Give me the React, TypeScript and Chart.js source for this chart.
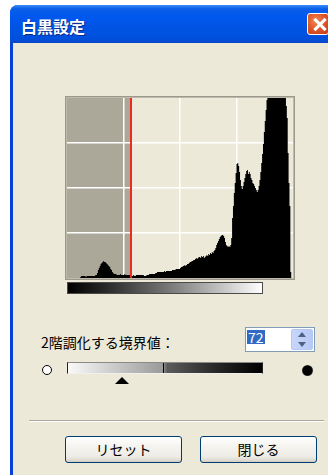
import React, { useEffect, useRef } from "react";
import { Chart, registerables } from "chart.js";

Chart.register(...registerables);

// ---- data ----
const TITLE = "白黒設定";
const THRESHOLD_LABEL = "2階調化する境界値：";
const THRESHOLD = 72;
const BUTTON_LABELS = ["リセット", "閉じる"];
const BIN_MIN = 0;
const BIN_MAX = 256;
const BIN_STEP = 64;
const COUNT_MAX = 180;
const COUNT_STEP = 45;

// histogram counts for bins 0..255 (clipped at COUNT_MAX)
const HISTOGRAM: number[] = [
  0, 0, 0, 0, 0, 0, 0, 0, 0, 0, 0, 0, 0, 0, 0, 0,
  1, 2, 2, 2, 2, 2, 1, 2, 2, 2, 2, 2, 2, 2, 2, 2, 2, 3,
  3, 5, 8, 10, 12, 14, 15, 16, 17, 16, 16, 15, 14, 13, 12, 11, 9, 8, 6, 5, 4, 4, 4, 3,
  3, 3, 3, 4, 3, 3, 3, 3, 4, 3, 3, 3, 3, 3, 3, 3, 2, 2, 3, 2,
  2, 3, 3, 3, 3, 3, 3, 3, 3, 3, 2, 2, 2, 3, 3, 3, 4, 4, 4, 4, 4, 4, 4,
  5, 5, 6, 6, 6, 6, 6, 6, 6, 6, 7, 6, 7, 7, 7, 7, 7, 7, 7, 8,
  8, 8, 8, 9, 9, 9, 9, 9, 10, 11,
  11, 12, 12, 13, 12, 13, 14, 14, 15, 16, 16, 17, 17, 18, 18, 19, 20, 19, 20, 21,
  21, 20, 22, 21, 22, 20, 21, 22, 23, 22, 24, 23, 25, 24, 26, 25, 27, 28, 30, 33,
  35, 37, 39, 41, 42, 43, 43, 42, 40, 36, 33, 32, 31, 32, 31, 33, 40,
  60, 72, 85, 95, 105, 114, 115, 112, 106, 98, 92, 89,
  92, 96, 100, 104, 107, 108, 104, 106, 104, 100, 98, 95, 94, 92, 90, 88, 86, 88, 92, 98,
  106, 115, 124, 134, 146, 157, 168, 178, 190, 205, 220,
  235, 245, 255, 262, 270, 275, 280, 278, 275, 268, 260, 250, 240, 228, 215, 200, 188,
  182, 172, 160, 125, 95, 72, 6, 0,
];

const FONT = '"Noto Sans CJK JP", "Noto Sans", sans-serif';

function Histogram() {
  const ref = useRef<HTMLCanvasElement | null>(null);
  useEffect(() => {
    const canvas = ref.current;
    if (!canvas) return;
    const zonePlugin = {
      id: "zone",
      beforeDraw(chart: any) {
        const { ctx, chartArea, scales } = chart;
        const { left, top, right, bottom } = chartArea;
        ctx.save();
        ctx.fillStyle = "#ece9d8";
        ctx.fillRect(left, top, right - left, bottom - top);
        const xp = scales.x.getPixelForValue(THRESHOLD);
        ctx.fillStyle = "#aca899";
        ctx.fillRect(left, top, xp - left, bottom - top);
        ctx.restore();
      },
      afterDatasetsDraw(chart: any) {
        const { ctx, chartArea, scales } = chart;
        const xp = Math.round(scales.x.getPixelForValue(THRESHOLD));
        ctx.save();
        ctx.fillStyle = "#f0281e";
        ctx.fillRect(xp - 1, chartArea.top, 2, chartArea.bottom - chartArea.top);
        ctx.restore();
      },
    };
    const gridColor = (min: number, max: number) => (c: any) =>
      c.tick && (c.tick.value === min || c.tick.value === max) ? "rgba(0,0,0,0)" : "#ffffff";
    const pts = HISTOGRAM.map((v, i) => ({ x: BIN_MIN + i, y: v }));
    pts.push({ x: BIN_MAX, y: 0 });
    const chart = new Chart(canvas, {
      type: "line",
      data: {
        datasets: [
          {
            data: pts,
            stepped: "after",
            fill: "origin",
            backgroundColor: "#000000",
            borderColor: "rgba(0,0,0,0)",
            borderWidth: 0,
            pointRadius: 0,
            clip: 0,
          } as any,
        ],
      },
      options: {
        responsive: false,
        animation: false,
        events: [],
        layout: { padding: 0 },
        plugins: { legend: { display: false }, tooltip: { enabled: false } },
        scales: {
          x: {
            type: "linear",
            min: BIN_MIN,
            max: BIN_MAX,
            ticks: { display: false, stepSize: BIN_STEP },
            grid: { color: gridColor(BIN_MIN, BIN_MAX), lineWidth: 1.5, drawTicks: false },
            border: { display: false },
          },
          y: {
            type: "linear",
            min: 0,
            max: COUNT_MAX,
            ticks: { display: false, stepSize: COUNT_STEP },
            grid: { color: gridColor(0, COUNT_MAX), lineWidth: 1.5, drawTicks: false },
            border: { display: false },
          },
        },
      } as any,
      plugins: [zonePlugin],
    });
    return () => chart.destroy();
  }, []);
  return (
    <canvas
      ref={ref}
      width={226}
      height={180}
      style={{ position: "absolute", left: 67, top: 98, width: 226, height: 180, display: "block" }}
    />
  );
}

const abs = (s: React.CSSProperties): React.CSSProperties => ({ position: "absolute", ...s });

function XPButton({ label, left }: { label: string; left: number }) {
  return (
    <div
      style={abs({
        left,
        top: 436,
        width: 117,
        height: 27,
        boxSizing: "border-box",
        border: "1px solid #003c74",
        borderRadius: 3,
        background: "linear-gradient(to bottom, #ffffff 0%, #f4f3ee 40%, #ecebe6 80%, #d6d0c5 100%)",
        boxShadow: "inset 0 -1px 0 #d6d0c5",
        font: `14px ${FONT}`,
        color: "#000",
        textAlign: "center",
        lineHeight: "25px",
      })}
    >
      {label}
    </div>
  );
}

export default function App() {
  const sliderLeft = 67;
  const sliderWidth = 195;
  const pointerX = sliderLeft + ((THRESHOLD - BIN_MIN) / (BIN_MAX - BIN_MIN)) * sliderWidth;
  return (
    <div style={{ position: "fixed", left: 0, top: 0, width: 328, height: 475, overflow: "hidden", background: "#ffffff" }}>
      {/* window body */}
      <div style={abs({ left: 10, top: 5, width: 330, height: 480, background: "#0841d8", borderTopLeftRadius: 8 })} />
      <div style={abs({ left: 13, top: 43, width: 330, height: 440, background: "#ece9d8" })} />
      {/* title bar */}
      <div
        style={abs({
          left: 10,
          top: 5,
          width: 330,
          height: 38,
          borderTopLeftRadius: 8,
          background:
            "linear-gradient(to bottom, #3c8cf8 0%, #0a5fe8 10%, #0058ee 30%, #0054e3 60%, #0050dc 88%, #0a46c8 100%)",
        })}
      />
      <div
        style={abs({
          left: 21,
          top: 18,
          font: `bold 16px ${FONT}`,
          lineHeight: "16px",
          color: "#ffffff",
          textShadow: "1px 1px 0 #0a2a8a",
          whiteSpace: "nowrap",
        })}
      >
        {TITLE}
      </div>
      {/* close button */}
      <div
        style={abs({
          left: 307,
          top: 13,
          width: 22,
          height: 22,
          boxSizing: "border-box",
          border: "1px solid #ffffff",
          borderRadius: 3,
          background: "radial-gradient(circle at 40% 35%, #f08a5a 0%, #e05a2c 45%, #c2391b 100%)",
        })}
      />
      <div style={abs({ left: 312, top: 23, width: 16, height: 3, background: "#fff", transform: "rotate(45deg)" })} />
      <div style={abs({ left: 312, top: 23, width: 16, height: 3, background: "#fff", transform: "rotate(-45deg)" })} />

      {/* histogram frame */}
      <div
        style={abs({
          left: 65,
          top: 96,
          width: 230,
          height: 184,
          boxSizing: "border-box",
          border: "1px solid #9c998c",
          boxShadow: "inset 0 0 0 1px #bdb9ab",
          background: "#ece9d8",
        })}
      />
      <Histogram />
      {/* gradient bar */}
      <div
        style={abs({
          left: 67,
          top: 282,
          width: 196,
          height: 12,
          boxSizing: "border-box",
          border: "1px solid #4a4a4a",
          background: "linear-gradient(to right, #000000 0%, #2a2a2a 20%, #808080 55%, #ffffff 100%)",
        })}
      />

      {/* threshold label */}
      <div style={abs({ left: 41, top: 335, font: `14px ${FONT}`, lineHeight: "14px", color: "#000", whiteSpace: "nowrap" })}>
        {THRESHOLD_LABEL}
      </div>
      {/* spinner */}
      <div
        style={abs({
          left: 245,
          top: 327,
          width: 70,
          height: 25,
          boxSizing: "border-box",
          border: "1px solid #7f9db9",
          background: "#ffffff",
        })}
      />
      <div
        style={abs({
          left: 247,
          top: 330,
          height: 14,
          padding: "0 1px",
          background: "#316ac5",
          color: "#ffffff",
          font: `14px ${FONT}`,
          lineHeight: "14px",
        })}
      >
        {String(THRESHOLD)}
      </div>
      <div
        style={abs({
          left: 291,
          top: 329,
          width: 22,
          height: 21,
          boxSizing: "border-box",
          border: "1px solid #b4c8f6",
          borderRadius: 2,
          background: "linear-gradient(to right, #c8d6fa, #b6c8f4)",
        })}
      />
      <div style={abs({ left: 298, top: 332, width: 0, height: 0, borderLeft: "4px solid transparent", borderRight: "4px solid transparent", borderBottom: "5px solid #4d6185" })} />
      <div style={abs({ left: 298, top: 342, width: 0, height: 0, borderLeft: "4px solid transparent", borderRight: "4px solid transparent", borderTop: "5px solid #4d6185" })} />

      {/* slider row */}
      <div
        style={abs({
          left: 42,
          top: 365,
          width: 10,
          height: 10,
          boxSizing: "border-box",
          borderRadius: "50%",
          border: "1.5px solid #000",
          background: "#fff",
        })}
      />
      <div
        style={abs({
          left: sliderLeft,
          top: 362,
          width: sliderWidth + 1,
          height: 12,
          boxSizing: "border-box",
          borderTop: "1px solid #8a8a8a",
          borderLeft: "1px solid #222",
          borderBottom: "1px solid #f0f0f0",
          borderRight: "1px solid #222",
          background: "linear-gradient(to right, #fafafa 0%, #c8c8c8 25%, #9a9a9a 49%, #5c5c5c 51%, #2a2a2a 75%, #000000 100%)",
        })}
      />
      <div style={abs({ left: 163, top: 363, width: 1, height: 10, background: "#000" })} />
      <div
        style={abs({
          left: 302,
          top: 365,
          width: 11,
          height: 11,
          borderRadius: "50%",
          background: "radial-gradient(circle at 50% 50%, #000 55%, #555 80%, #999 100%)",
        })}
      />
      <div
        style={abs({
          left: pointerX - 7,
          top: 377,
          width: 0,
          height: 0,
          borderLeft: "7px solid transparent",
          borderRight: "7px solid transparent",
          borderBottom: "7px solid #000",
        })}
      />

      {/* separator */}
      <div style={abs({ left: 29, top: 420, width: 295, height: 1, background: "#aca899" })} />
      <div style={abs({ left: 29, top: 421, width: 295, height: 1, background: "#ffffff" })} />

      {/* buttons */}
      <XPButton label={BUTTON_LABELS[0]} left={65} />
      <XPButton label={BUTTON_LABELS[1]} left={200} />
    </div>
  );
}
